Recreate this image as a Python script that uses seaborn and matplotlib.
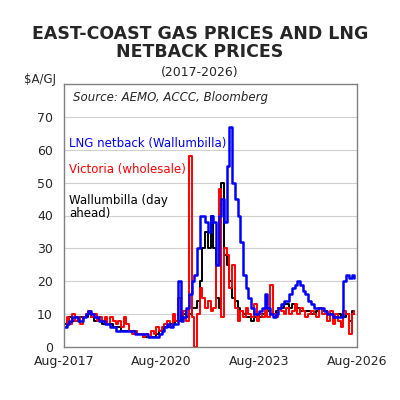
import numpy as np
import pandas as pd
import matplotlib.pyplot as plt
import seaborn as sns

# monthly values, Aug-2017 .. Jul-2026
lng = [6, 7, 8, 9, 9, 8, 8, 9, 10, 11, 10, 9,
       9, 8, 8, 7, 7, 6, 6, 5, 5, 5, 5, 5,
       5, 5, 4, 4, 4, 4, 4, 3, 3, 3, 3, 4,
       5, 6, 7, 6, 7, 7, 20, 8, 9, 12, 16, 20,
       22, 30, 40, 40, 38, 35, 40, 38, 25, 40, 45, 38,
       55, 67, 50, 45, 40, 32, 22, 18, 15, 12, 10, 10,
       11, 12, 16, 12, 10, 9, 10, 12, 13, 14, 14, 16,
       18, 19, 20, 19, 17, 16, 14, 13, 12, 12, 12, 12,
       11, 10, 10, 9, 9, 9, 9, 20, 22, 21, 22, 21]
wallumbilla = [7, 8, 9, 8, 9, 8, 9, 9, 9, 10, 9, 8,
               8, 8, 7, 7, 7, 7, 6, 6, 6, 5, 5, 5,
               5, 5, 4, 4, 4, 3, 3, 3, 3, 3, 4, 5,
               5, 6, 6, 7, 7, 8, 8, 9, 10, 9, 10, 12,
               12, 14, 20, 30, 35, 30, 40, 30, 15, 12, 50, 28,
               25, 20, 15, 14, 12, 11, 10, 9, 9, 8, 9, 9,
               9, 10, 10, 11, 10, 10, 11, 12, 12, 13, 13, 12,
               13, 12, 12, 11, 11, 11, 11, 10, 10, 11, 12, 11,
               11, 10, 10, 9, 9, 10, 9, 9, 10, 8, 11, 10]
victoria = [6, 9, 7, 10, 8, 9, 7, 9, 10, 11, 9, 10,
            8, 9, 8, 9, 7, 9, 8, 7, 8, 6, 9, 7,
            5, 4, 5, 4, 4, 3, 4, 3, 5, 4, 6, 5,
            6, 7, 8, 6, 10, 8, 15, 9, 11, 8, 58, 9,
            0, 10, 18, 15, 12, 14, 11, 12, 25, 48, 9, 30,
            28, 18, 25, 12, 8, 11, 9, 12, 10, 9, 13, 8,
            10, 9, 12, 9, 19, 10, 9, 12, 11, 10, 12, 10,
            11, 13, 10, 12, 11, 9, 10, 11, 10, 9, 12, 10,
            10, 8, 11, 7, 10, 8, 6, 11, 10, 4, 10, 11]
tick_pos = [0, 36, 72, 108]
tick_labels = ["Aug-2017", "Aug-2020", "Aug-2023", "Aug-2026"]

months = np.arange(len(lng))
df = pd.DataFrame({"month": months, "lng": lng,
                   "wal": wallumbilla, "vic": victoria})

sns.set_style("white")
fig = plt.figure(figsize=(4, 4), dpi=100)
ax = fig.add_axes([0.16, 0.1325, 0.7325, 0.6575])

sns.lineplot(data=df, x="month", y="wal", color="black", lw=1.4, ax=ax, drawstyle="steps-post")
sns.lineplot(data=df, x="month", y="vic", color="#ff0000", lw=1.4, ax=ax, drawstyle="steps-post")
sns.lineplot(data=df, x="month", y="lng", color="#0000ff", lw=1.8, ax=ax, drawstyle="steps-post")

ax.set_xlim(0, 108)
ax.set_ylim(0, 80)
ax.set_yticks(range(0, 80, 10))
ax.set_xticks(tick_pos)
ax.set_xticklabels(tick_labels)
ax.set_xlabel("")
ax.set_ylabel("")
ax.tick_params(labelsize=9, length=0)
ax.tick_params(axis="y", pad=8)
ax.tick_params(axis="x", pad=6)
for y in range(10, 80, 10):
    ax.axhline(y, color="#d0d0d0", lw=0.8, zorder=0)
for s in ax.spines.values():
    s.set_color("#808080")
    s.set_linewidth(1)

ax.text(0.03, 0.975, "Source: AEMO, ACCC, Bloomberg", transform=ax.transAxes,
        style="italic", fontsize=8.5, va="top")
ax.text(2, 62, "LNG netback (Wallumbilla)", color="#0000ff", fontsize=8.5, va="center")
ax.text(2, 54, "Victoria (wholesale)", color="#ff0000", fontsize=8.5, va="center")
ax.text(2, 42.5, "Wallumbilla (day\nahead)", color="black", fontsize=8.5, va="center",
        linespacing=1.0)

fig.text(0.5, 0.893, "EAST-COAST GAS PRICES AND LNG\nNETBACK PRICES", ha="center",
         va="center", fontsize=12.5, fontweight="bold", linespacing=1.0)
fig.text(0.5, 0.818, "(2017-2026)", ha="center", va="center", fontsize=9)
fig.text(0.06, 0.8, "$A/GJ", ha="left", va="center", fontsize=8.5)

fig.savefig("out.png", dpi=100)
